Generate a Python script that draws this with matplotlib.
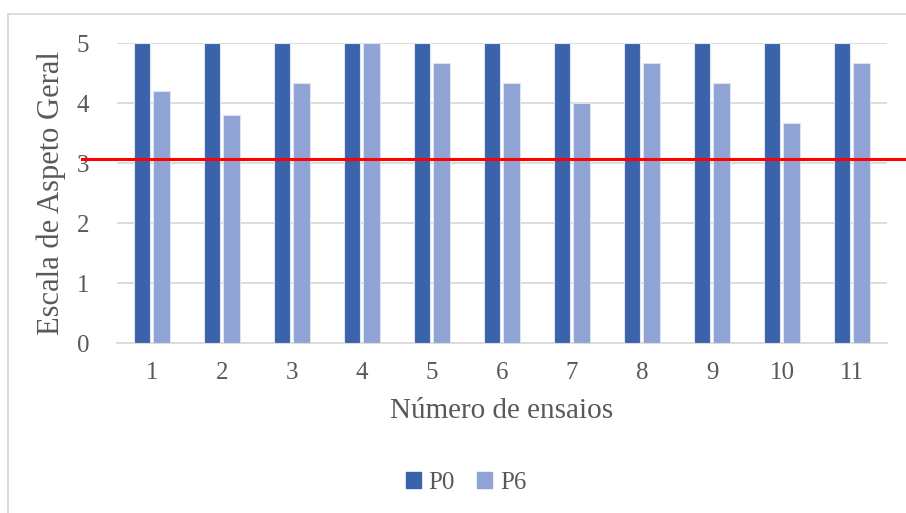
import numpy as np
import matplotlib.pyplot as plt
from matplotlib.lines import Line2D
from matplotlib.patches import Patch

ensaios = ['1', '2', '3', '4', '5', '6', '7', '8', '9', '10', '11']
p0 = [5, 5, 5, 5, 5, 5, 5, 5, 5, 5, 5]
p6 = [4.2, 3.8, 4.33, 5, 4.67, 4.33, 4.0, 4.67, 4.33, 3.67, 4.67]
limite = 3.07

plt.rcParams['font.family'] = ['Liberation Serif', 'DejaVu Serif']
txt = '#595959'
c0 = '#3B63AC'
c6 = '#8FA4D4'

fig = plt.figure(figsize=(9.06, 5.13), dpi=100)
ax = fig.add_axes([117/906, 1 - 343/513, 770/906, 300/513])

x = np.arange(len(ensaios))
w = 0.23
ax.bar(x - 0.145, p0, w, color=c0, edgecolor='#DCE3F1', linewidth=0.8, label='P0', zorder=3)
ax.bar(x + 0.135, p6, w, color=c6, edgecolor='#DCE3F1', linewidth=0.8, label='P6', zorder=3)

ax.set_xlim(-0.5, len(ensaios) - 0.5)
ax.set_ylim(0, 5)
ax.set_yticks(range(6))
ax.set_xticks(x)
ax.set_xticklabels(ensaios)
ax.yaxis.grid(True, color='#D9D9D9', linewidth=1.3, zorder=0)
ax.tick_params(length=0, labelsize=18, colors=txt)
ax.tick_params(axis='x', pad=14)
ax.tick_params(axis='y', pad=20)
for s in ['top', 'right', 'left']:
    ax.spines[s].set_visible(False)
ax.spines['bottom'].set_color('#D9D9D9')
ax.spines['bottom'].set_linewidth(1.3)

ax.set_xlabel('Número de ensaios', fontsize=21, color=txt, labelpad=10)
ax.set_ylabel('Escala de Aspeto Geral', fontsize=22, color=txt, labelpad=8)

# linha vermelha de referencia
ax.axhline(limite, xmin=(82 - 117) / 770, xmax=(906 - 117) / 770,
           color='#FF0000', linewidth=2.2, clip_on=False, zorder=5)

# moldura do grafico (topo e esquerda)
fig.add_artist(Line2D([8/906, 1], [1 - 14/513] * 2, color='#D9D9D9', linewidth=1.3))
fig.add_artist(Line2D([8/906] * 2, [0, 1 - 14/513], color='#D9D9D9', linewidth=1.3))

handles = [Patch(color=c0, label='P0'), Patch(color=c6, label='P6')]
fig.legend(handles=handles, loc='center', bbox_to_anchor=(466/906, 1 - 483/513),
           ncol=2, frameon=False, fontsize=18, labelcolor=txt,
           handlelength=0.6, handleheight=0.6, handletextpad=0.3, columnspacing=0.9)

fig.savefig('out.png', dpi=100)
